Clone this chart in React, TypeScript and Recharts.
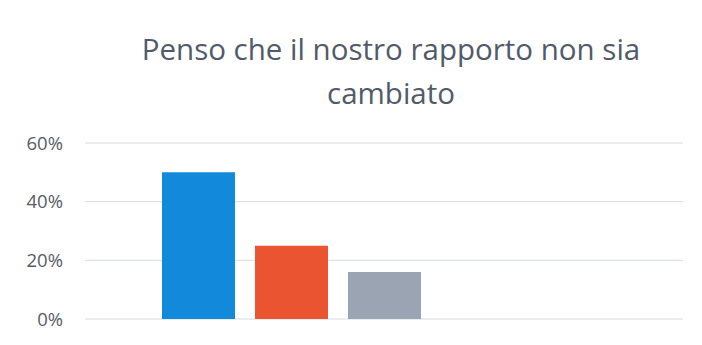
import { BarChart, Bar, XAxis, YAxis, CartesianGrid } from 'recharts'

const categories = ['Penso che il nostro rapporto non sia cambiato']
const seriesNames = ['Molto', 'Abbastanza', 'Poco', 'Per niente', 'Non so']
const seriesValues = [0.5, 0.25, 0.16, 0, 0]
const seriesColors = ['#1389dc', '#eb5430', '#9aa4b2', '#ffc000', '#5b9bd5']
const yTicks = [0, 0.2, 0.4, 0.6]

const chartData = categories.map(name => {
  const row: Record<string, string | number> = { name }
  seriesNames.forEach((s, i) => {
    row[s] = seriesValues[i]
  })
  return row
})

export default function App() {
  return (
    <div style={{ position: 'absolute', left: 0, top: 0, width: 702, height: 345, background: '#fff' }}>
      <div
        style={{
          position: 'absolute',
          left: 80,
          top: 27,
          width: 622,
          textAlign: 'center',
          fontFamily: '"Open Sans", sans-serif',
          fontSize: 29.5,
          lineHeight: '44px',
          color: '#515a69',
        }}
      >
        Penso che il nostro rapporto non sia
        <br />
        cambiato
      </div>
      <BarChart
        width={702}
        height={345}
        data={chartData}
        margin={{ top: 143, right: 19, bottom: 26, left: 0 }}
        barSize={73}
        barGap={20}
      >
        <CartesianGrid vertical={false} stroke="#d6dae2" />
        <XAxis dataKey="name" hide />
        <YAxis
          width={85}
          domain={[0, 0.6]}
          ticks={yTicks}
          tickFormatter={v => `${Math.round(v * 100)}%`}
          axisLine={false}
          tickLine={false}
          tickSize={0}
          tickMargin={22}
          tick={{ fontSize: 18.5, fill: '#575c66', fontFamily: '"Open Sans", sans-serif' }}
        />
        {seriesNames.map((s, i) => (
          <Bar key={s} dataKey={s} fill={seriesColors[i]} isAnimationActive={false} />
        ))}
      </BarChart>
    </div>
  )
}
